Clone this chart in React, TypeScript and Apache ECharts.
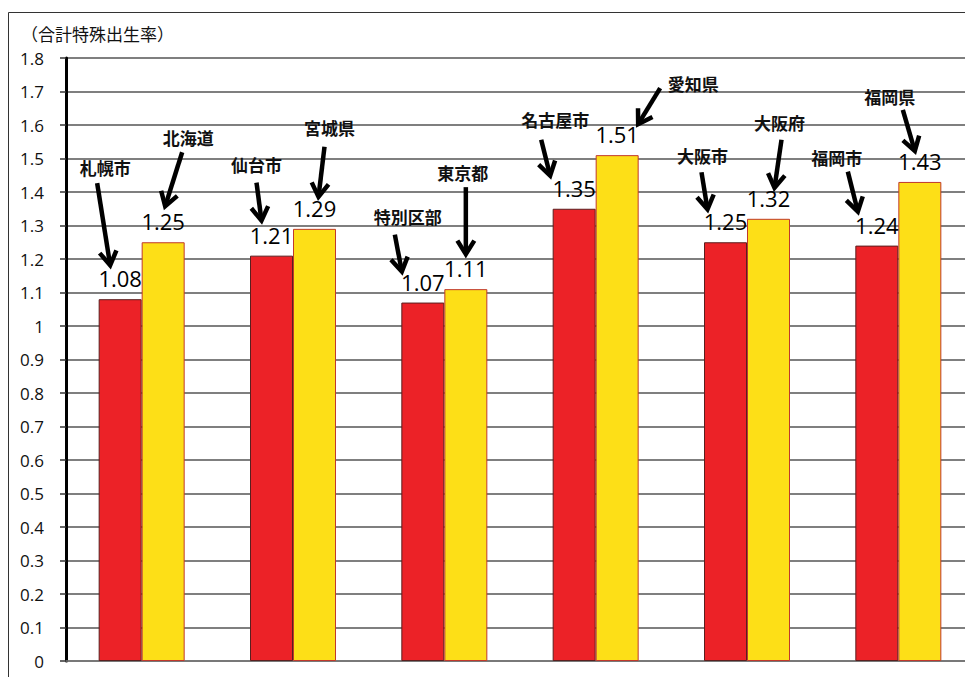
import React, { useEffect, useRef } from "react";
import * as echarts from "echarts";

const groups = ["札幌", "仙台", "東京", "名古屋", "大阪", "福岡"];
const cityNames = ["札幌市", "仙台市", "特別区部", "名古屋市", "大阪市", "福岡市"];
const prefNames = ["北海道", "宮城県", "東京都", "愛知県", "大阪府", "福岡県"];
const cityValues = [1.08, 1.21, 1.07, 1.35, 1.25, 1.24];
const prefValues = [1.25, 1.29, 1.11, 1.51, 1.32, 1.43];
const yTitle = "（合計特殊出生率）";
const yMin = 0;
const yMax = 1.8;
const yStep = 0.1;

// layout of callouts relative to bar centre / bar top: [labelDx, labelDy, tailDx, tailDy, tipDx, tipDy]
const cityCallouts = [
  [-15, -132, -23, -116, -10, -34],
  [-15, -91, -15, -73, -10, -35],
  [-15, -86, -28, -68, -21, -31],
  [-19, -89, -33, -69, -24, -33],
  [-23, -87, -24, -70, -18, -33],
  [-40, -88, -29, -74, -19, -34],
];
const prefCallouts = [
  [25, -105, 19, -90, 2, -36],
  [15, -101, 10, -82, 4, -32],
  [-3, -117, 0, -102, 0, -35],
  [76, -72, 43, -67, 21, -31],
  [11, -96, 13, -79, 6, -31],
  [-30, -85, -17, -72, -5, -31],
];

const BAR_W = 43;
const NUM_FONT = "'Open Sans', 'Noto Sans', sans-serif";
const JP_FONT = "'Noto Sans CJK JP', sans-serif";

export default function App() {
  const ref = useRef<HTMLDivElement>(null);
  useEffect(() => {
    if (!ref.current) return;
    const chart = echarts.init(ref.current, null, { renderer: "svg" });
    const valueLabel = {
      show: true,
      position: "top",
      distance: 10,
      fontSize: 22,
      color: "#000",
      fontFamily: NUM_FONT,
    };
    chart.setOption({
      animation: false,
      backgroundColor: "#fff",
      grid: { left: 66, top: 58, right: 26, bottom: 39, containLabel: false },
      xAxis: {
        type: "category",
        data: groups,
        axisLine: { show: true, lineStyle: { color: "#777", width: 1.5 } },
        axisTick: { show: false },
        axisLabel: { show: false },
        splitLine: { show: false },
      },
      yAxis: {
        type: "value",
        min: yMin,
        max: yMax,
        interval: yStep,
        axisLine: { show: true, lineStyle: { color: "#000", width: 3 } },
        axisTick: { show: true, length: 6, lineStyle: { color: "#333", width: 1.5 } },
        axisLabel: {
          margin: 22,
          fontSize: 17,
          color: "#111",
          fontFamily: NUM_FONT,
        },
        splitLine: { show: true, lineStyle: { color: "#555", width: 1.5 } },
      },
      series: [
        {
          type: "bar",
          name: "市",
          data: cityValues,
          barWidth: BAR_W,
          barGap: "0%",
          itemStyle: { color: "#EC2227", borderColor: "#5a1f1f", borderWidth: 1 },
          label: valueLabel,
        },
        {
          type: "bar",
          name: "県",
          data: prefValues,
          barWidth: BAR_W,
          barGap: "0%",
          itemStyle: { color: "#FDDF17", borderColor: "#C0392B", borderWidth: 1 },
          label: valueLabel,
        },
      ],
    });

    const elements: any[] = [
      {
        type: "rect",
        shape: { x: 8.5, y: 12.5, width: 1200, height: 900 },
        style: { fill: "none", stroke: "#333", lineWidth: 1 },
        z: 0,
        silent: true,
      },
      {
        type: "text",
        x: 21,
        y: 33,
        style: {
          text: yTitle,
          fontSize: 17,
          fontFamily: JP_FONT,
          fill: "#111",
          textVerticalAlign: "middle",
        },
      },
    ];

    const addCallout = (name: string, idx: number, value: number, side: number, c: number[]) => {
      const cx = chart.convertToPixel({ xAxisIndex: 0 }, idx) as number;
      const topY = chart.convertToPixel({ yAxisIndex: 0 }, value) as number;
      const bx = cx + side * (BAR_W / 2);
      const [ldx, ldy, tdx, tdy, pdx, pdy] = c;
      elements.push({
        type: "text",
        x: bx + ldx,
        y: topY + ldy,
        z: 10,
        style: {
          text: name,
          fontSize: 17,
          fontWeight: "bold",
          fontFamily: JP_FONT,
          fill: "#111",
          textAlign: "center",
          textVerticalAlign: "middle",
        },
      });
      const tx = bx + tdx, ty = topY + tdy, px = bx + pdx, py = topY + pdy;
      const len = Math.hypot(px - tx, py - ty);
      const ux = (px - tx) / len, uy = (py - ty) / len;
      const L = 16, th = (32 * Math.PI) / 180;
      const rot = (a: number) => [
        px - L * (ux * Math.cos(a) - uy * Math.sin(a)),
        py - L * (ux * Math.sin(a) + uy * Math.cos(a)),
      ];
      elements.push({
        type: "line",
        z: 10,
        shape: { x1: tx, y1: ty, x2: px - 2 * ux, y2: py - 2 * uy },
        style: { stroke: "#000", lineWidth: 4.5 },
      });
      elements.push({
        type: "polyline",
        z: 10,
        shape: { points: [rot(th), [px, py], rot(-th)] },
        style: { stroke: "#000", lineWidth: 4.5, fill: "none", lineJoin: "miter" },
      });
    };

    cityNames.forEach((n, i) => addCallout(n, i, cityValues[i], -1, cityCallouts[i]));
    prefNames.forEach((n, i) => addCallout(n, i, prefValues[i], 1, prefCallouts[i]));

    chart.setOption({ graphic: elements });
    return () => chart.dispose();
  }, []);
  return (
    <div
      ref={ref}
      style={{ position: "fixed", left: 0, top: 0, width: 1000, height: 700, background: "#fff" }}
    />
  );
}
